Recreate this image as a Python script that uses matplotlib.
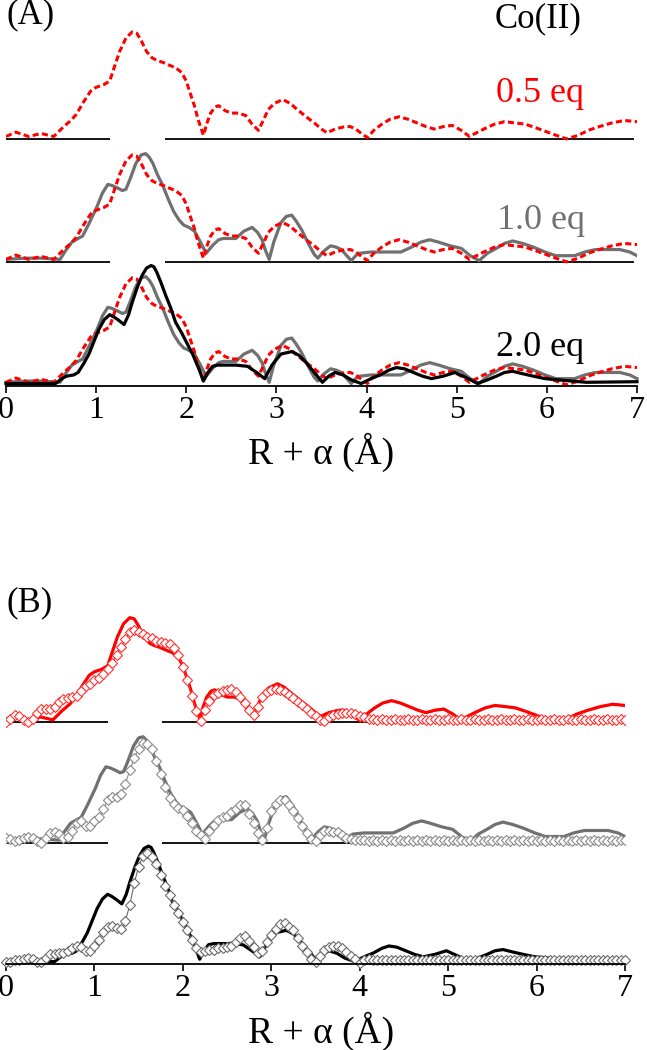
import numpy as np
import matplotlib.pyplot as plt

plt.rcParams['font.family'] = ['Liberation Serif', 'DejaVu Serif']

r_05 = [0.00, 0.11, 0.25, 0.39, 0.53, 0.64, 0.72, 0.78, 0.86, 0.94, 1.00, 1.08, 1.15, 1.20, 1.26, 1.33,
        1.40, 1.45, 1.50, 1.56, 1.62, 1.67, 1.75, 1.81, 1.88, 1.95, 2.00, 2.04, 2.09, 2.13, 2.19, 2.23,
        2.27, 2.32, 2.36, 2.43, 2.50, 2.58, 2.66, 2.73, 2.80, 2.86, 2.91, 2.98, 3.07, 3.15, 3.23, 3.33,
        3.42, 3.50, 3.56, 3.65, 3.76, 3.82, 3.88, 3.95, 4.01, 4.08, 4.17, 4.26, 4.36, 4.46, 4.56, 4.66,
        4.75, 4.85, 4.95, 5.05, 5.14, 5.22, 5.30, 5.42, 5.53, 5.65, 5.76, 5.88, 5.99, 6.10, 6.22, 6.35,
        6.46, 6.58, 6.72, 6.86, 7.00]
ft_05 = [0.02, 0.055, 0.02, 0.044, 0.02, 0.10, 0.15, 0.20, 0.30, 0.39, 0.42, 0.44, 0.47, 0.58, 0.71, 0.82,
         0.87, 0.86, 0.80, 0.71, 0.66, 0.64, 0.62, 0.60, 0.58, 0.54, 0.47, 0.38, 0.27, 0.16, 0.03, 0.13,
         0.21, 0.26, 0.27, 0.23, 0.21, 0.21, 0.19, 0.12, 0.07, 0.16, 0.24, 0.29, 0.32, 0.29, 0.24, 0.18,
         0.13, 0.08, 0.05, 0.08, 0.10, 0.10, 0.08, 0.04, 0.01, 0.07, 0.12, 0.16, 0.18, 0.16, 0.13, 0.10,
         0.08, 0.10, 0.11, 0.07, 0.02, 0.05, 0.08, 0.12, 0.14, 0.13, 0.12, 0.09, 0.06, 0.03, 0.00, 0.03,
         0.07, 0.10, 0.13, 0.15, 0.14]

r_10 = [0.00, 0.21, 0.39, 0.60, 0.66, 0.73, 0.80, 0.85, 0.92, 1.01, 1.07, 1.13, 1.18, 1.24, 1.29, 1.33,
        1.38, 1.44, 1.50, 1.55, 1.59, 1.63, 1.68, 1.74, 1.80, 1.86, 1.92, 1.97, 2.03, 2.09, 2.15, 2.22,
        2.30, 2.36, 2.41, 2.48, 2.55, 2.64, 2.73, 2.79, 2.84, 2.88, 2.92, 2.97, 3.05, 3.11, 3.17, 3.22,
        3.28, 3.36, 3.42, 3.46, 3.53, 3.60, 3.66, 3.72, 3.78, 3.83, 3.88, 3.92, 4.05, 4.15, 4.38, 4.50,
        4.60, 4.70, 4.80, 4.93, 5.05, 5.15, 5.25, 5.34, 5.44, 5.53, 5.62, 5.73, 5.85, 5.98, 6.10, 6.31,
        6.42, 6.54, 6.81, 6.92, 7.00]
ft_10 = [0.02, 0.03, 0.03, 0.02, 0.09, 0.16, 0.19, 0.21, 0.31, 0.45, 0.56, 0.63, 0.62, 0.60, 0.58, 0.59,
         0.68, 0.80, 0.87, 0.88, 0.85, 0.80, 0.71, 0.62, 0.51, 0.41, 0.34, 0.30, 0.28, 0.25, 0.17, 0.07,
         0.14, 0.18, 0.19, 0.19, 0.19, 0.25, 0.28, 0.24, 0.18, 0.09, 0.02, 0.16, 0.32, 0.37, 0.38, 0.33,
         0.26, 0.14, 0.06, 0.03, 0.09, 0.13, 0.12, 0.10, 0.05, 0.01, 0.05, 0.07, 0.08, 0.08, 0.08, 0.12,
         0.16, 0.18, 0.16, 0.13, 0.11, 0.05, 0.01, 0.07, 0.11, 0.15, 0.17, 0.15, 0.12, 0.08, 0.05, 0.05,
         0.08, 0.10, 0.10, 0.08, 0.05]

r_20 = [0.00, 0.21, 0.55, 0.62, 0.67, 0.75, 0.80, 0.86, 0.92, 0.98, 1.03, 1.09, 1.15, 1.20, 1.24, 1.31,
        1.36, 1.40, 1.46, 1.51, 1.56, 1.61, 1.64, 1.67, 1.72, 1.77, 1.83, 1.88, 1.95, 2.02, 2.07, 2.11,
        2.15, 2.19, 2.24, 2.29, 2.35, 2.43, 2.55, 2.68, 2.78, 2.87, 2.95, 3.05, 3.17, 3.25, 3.33, 3.42,
        3.51, 3.58, 3.65, 3.74, 3.83, 3.94, 4.05, 4.15, 4.25, 4.33, 4.42, 4.52, 4.62, 4.72, 4.85, 4.98,
        5.10, 5.23, 5.34, 5.44, 5.53, 5.62, 5.73, 5.85, 5.98, 6.12, 6.44, 7.00]
ft_20 = [0.01, 0.01, 0.01, 0.05, 0.07, 0.08, 0.10, 0.17, 0.25, 0.36, 0.45, 0.53, 0.57, 0.55, 0.53, 0.49,
         0.57, 0.67, 0.80, 0.89, 0.95, 0.97, 0.96, 0.92, 0.83, 0.73, 0.62, 0.51, 0.42, 0.32, 0.25, 0.18,
         0.11, 0.03, 0.10, 0.15, 0.16, 0.16, 0.16, 0.15, 0.10, 0.05, 0.16, 0.25, 0.27, 0.24, 0.18, 0.10,
         0.02, 0.07, 0.10, 0.08, 0.04, 0.01, 0.05, 0.08, 0.12, 0.14, 0.13, 0.10, 0.07, 0.05, 0.07, 0.10,
         0.06, 0.01, 0.04, 0.07, 0.10, 0.11, 0.09, 0.07, 0.05, 0.04, 0.02, 0.025]

# fits, every 0.05 A from 0 to 7
r_fit = np.round(np.arange(141) * 0.05, 2)
fit_05 = [0.00, 0.03, 0.06, 0.05, 0.02, 0.00, 0.03, 0.08, 0.11, 0.11, 0.11, 0.13, 0.17, 0.19, 0.20, 0.21, 0.22, 0.26, 0.30, 0.32,
          0.35, 0.37, 0.40, 0.44, 0.49, 0.56, 0.63, 0.69, 0.75, 0.77, 0.75, 0.73, 0.71, 0.70, 0.68, 0.67, 0.66, 0.65, 0.62, 0.56,
          0.46, 0.35, 0.22, 0.09, 0.01, 0.10, 0.18, 0.23, 0.24, 0.26, 0.27, 0.28, 0.25, 0.21, 0.16, 0.10, 0.06, 0.13, 0.21, 0.25,
          0.27, 0.28, 0.27, 0.25, 0.23, 0.20, 0.17, 0.14, 0.11, 0.08, 0.05, 0.02, 0.01, 0.04, 0.06, 0.07, 0.08, 0.08, 0.08, 0.07,
          0.05, 0.04, 0.03, 0.03, 0.02, 0.03, 0.02, 0.02, 0.03, 0.02, 0.02, 0.03, 0.02, 0.02, 0.03, 0.02, 0.02, 0.03, 0.02, 0.02,
          0.03, 0.02, 0.02, 0.03, 0.02, 0.02, 0.03, 0.02, 0.02, 0.03, 0.02, 0.02, 0.03, 0.02, 0.02, 0.03, 0.02, 0.02, 0.03, 0.02,
          0.02, 0.03, 0.02, 0.02, 0.03, 0.02, 0.02, 0.03, 0.02, 0.02, 0.03, 0.02, 0.02, 0.03, 0.02, 0.02, 0.03, 0.02, 0.02, 0.03,
          0.02]
fit_10 = [0.035, 0.03, 0.01, 0.02, 0.04, 0.05, 0.04, 0.01, 0.00, 0.04, 0.08, 0.09, 0.07, 0.04, 0.05, 0.10, 0.16, 0.18, 0.14, 0.14,
          0.18, 0.21, 0.28, 0.35, 0.38, 0.38, 0.40, 0.49, 0.60, 0.70, 0.78, 0.83, 0.82, 0.78, 0.68, 0.57, 0.46, 0.37, 0.32, 0.29,
          0.27, 0.22, 0.16, 0.10, 0.06, 0.03, 0.10, 0.15, 0.19, 0.21, 0.22, 0.25, 0.28, 0.31, 0.31, 0.24, 0.16, 0.08, 0.02, 0.12,
          0.26, 0.32, 0.35, 0.35, 0.31, 0.26, 0.20, 0.14, 0.08, 0.03, 0.01, 0.06, 0.10, 0.10, 0.09, 0.09, 0.06, 0.04, 0.03, 0.025,
          0.02, 0.02, 0.015, 0.02, 0.015, 0.02, 0.015, 0.02, 0.015, 0.02, 0.015, 0.02, 0.015, 0.02, 0.015, 0.02, 0.015, 0.02, 0.015, 0.02,
          0.015, 0.02, 0.015, 0.02, 0.015, 0.02, 0.015, 0.02, 0.015, 0.02, 0.015, 0.02, 0.015, 0.02, 0.015, 0.02, 0.015, 0.02, 0.015, 0.02,
          0.015, 0.02, 0.015, 0.02, 0.015, 0.02, 0.015, 0.02, 0.015, 0.02, 0.015, 0.02, 0.015, 0.02, 0.015, 0.02, 0.015, 0.02, 0.015, 0.02,
          0.02]
fit_20 = [0.01, 0.01, 0.02, 0.02, 0.03, 0.04, 0.03, 0.01, 0.01, 0.04, 0.07, 0.07, 0.08, 0.08, 0.10, 0.12, 0.14, 0.13, 0.10, 0.10,
          0.14, 0.19, 0.26, 0.30, 0.31, 0.29, 0.28, 0.35, 0.48, 0.66, 0.80, 0.89, 0.91, 0.88, 0.82, 0.73, 0.64, 0.56, 0.48, 0.41,
          0.34, 0.27, 0.19, 0.12, 0.09, 0.10, 0.11, 0.11, 0.12, 0.12, 0.13, 0.14, 0.17, 0.21, 0.22, 0.18, 0.13, 0.08, 0.10, 0.17,
          0.23, 0.28, 0.32, 0.33, 0.30, 0.27, 0.21, 0.14, 0.09, 0.03, 0.01, 0.06, 0.11, 0.13, 0.14, 0.14, 0.12, 0.09, 0.06, 0.03,
          0.00, 0.02, 0.03, 0.02, 0.02, 0.02, 0.02, 0.02, 0.02, 0.02, 0.02, 0.02, 0.02, 0.02, 0.02, 0.02, 0.02, 0.02, 0.02, 0.02,
          0.02, 0.02, 0.02, 0.02, 0.02, 0.02, 0.02, 0.02, 0.02, 0.02, 0.02, 0.02, 0.02, 0.02, 0.02, 0.02, 0.02, 0.02, 0.02, 0.02,
          0.02, 0.02, 0.02, 0.02, 0.02, 0.02, 0.02, 0.02, 0.02, 0.02, 0.02, 0.02, 0.02, 0.02, 0.02, 0.02, 0.02, 0.02, 0.02, 0.02,
          0.02]

labels = ['0.5 eq', '1.0 eq', '2.0 eq']
RED = '#ff0000'
GRAY = '#707070'
BLK = '#000000'

fig = plt.figure(figsize=(6.47, 10.5), dpi=100)


def style_axis(ax):
    ax.set_xlim(0, 7)
    for s in ['left', 'top', 'right']:
        ax.spines[s].set_visible(False)
    ax.spines['bottom'].set_linewidth(1.3)
    ax.set_yticks([])
    ax.set_xticks(range(8))
    ax.tick_params(axis='x', direction='out', length=5, width=1.2, pad=2, labelsize=23)
    ax.patch.set_visible(False)


def baselines(ax, y):
    ax.hlines(y, 0, 1.15, color='k', lw=1.3)
    ax.hlines(y, 1.76, 6.97, color='k', lw=1.3)


dash = (0, (2.0, 1.1))
r05 = np.array(ft_05)
r10 = np.array(ft_10)
r20 = np.array(ft_20)

# ---- (A)
axA = fig.add_axes([6 / 647, (1050 - 386) / 1050, 631 / 647, 386 / 1050])
axA.set_ylim(-0.01, 3.13)
style_axis(axA)
baselines(axA, 2)
baselines(axA, 1)
axA.plot(r_05, r05 + 2, color=RED, ls=dash, lw=2.2)
axA.plot(r_10, r10 + 1, color=GRAY, lw=2.3)
axA.plot(r_05, r05 + 1, color=RED, ls=dash, lw=2.2)
axA.plot(r_10, r10, color=GRAY, lw=2.3, clip_on=False)
axA.plot(r_05, r05, color=RED, ls=dash, lw=2.2, clip_on=False)
axA.plot(r_20, r20, color=BLK, lw=2.3, clip_on=False)

axA.text(0.0, 3.01, '(A)', fontsize=25, ha='left', va='center')
axA.text(5.9, 2.98, 'Co(II)', fontsize=25, ha='center', va='center')
axA.text(5.92, 2.37, labels[0], fontsize=26, color=RED, ha='center', va='center')
axA.text(5.94, 1.34, labels[1], fontsize=26, color=GRAY, ha='center', va='center')
axA.text(5.92, 0.30, labels[2], fontsize=26, color=BLK, ha='center', va='center')
fig.text(0.496, (1050 - 452) / 1050, 'R + α (Å)', fontsize=27, ha='center', va='center')

# ---- (B)
axB = fig.add_axes([6 / 647, (1050 - 964) / 1050, 619 / 647, 374 / 1050])
axB.set_ylim(-0.01, 3.10)
style_axis(axB)
baselines(axB, 2)
baselines(axB, 1)
f05 = np.array(fit_05)
f10 = np.array(fit_10)
f20 = np.array(fit_20)
r20a = np.array(r_20)
keep = r20a <= 6.12

mk = dict(marker='D', ms=4.8, mfc='white', mew=0.8, lw=0.8)
axB.plot(r_05, r05 + 2, color=RED, lw=2.3)
axB.plot(r_fit, f05 + 2, color='#ff3030', mec='#ff3030', **mk)
axB.plot(r_10, r10 + 1, color=GRAY, lw=2.3)
axB.plot(r_fit, f10 + 1, color='#8a8a8a', mec='#8a8a8a', **mk)
axB.plot(r20a[keep], r20[keep], color=BLK, lw=2.3, clip_on=False)
axB.plot(r_fit, f20, color='#6a6a6a', mec='#6a6a6a', clip_on=False, **mk)

axB.text(0.0, 2.99, '(B)', fontsize=25, ha='left', va='center')
fig.text(0.496, (1050 - 1031) / 1050, 'R + α (Å)', fontsize=27, ha='center', va='center')

fig.savefig('out.png', dpi=100)
